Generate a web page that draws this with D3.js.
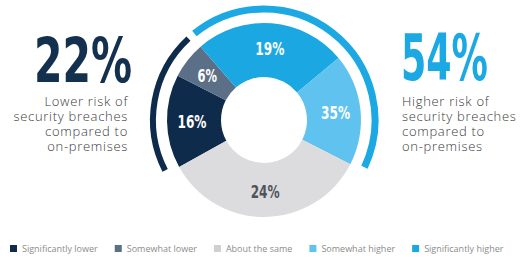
<!DOCTYPE html>
<html>
<head>
<meta charset="utf-8">
<script src="https://cdn.jsdelivr.net/npm/d3@7"></script>
<style>
  html, body { margin: 0; padding: 0; background: #fff; }
  svg { display: block; }
  .num { font-family: "Liberation Sans Narrow", "DejaVu Sans Condensed", "DejaVu Sans", sans-serif; font-stretch: condensed; font-weight: bold; }
  .sub { font-family: "Open Sans", sans-serif; font-weight: 300; font-size: 13px; letter-spacing: 0.7px; fill: #3a3a3a; }
  .legend text { font-family: "Open Sans", sans-serif; font-size: 9px; fill: #8c8c8c; }
</style>
</head>
<body>
<svg></svg>
<script>
// categories in drawing order (clockwise from lower left)
const categories = ["Significantly lower", "Somewhat lower", "Significantly higher", "Somewhat higher", "About the same"];
const labels = ["16%", "6%", "19%", "35%", "24%"];
// arc share as drawn in the picture (the artwork is not to scale)
const shares = [15.6, 6.1, 25.3, 18.6, 34.4];
const colors = ["#0f2b4c", "#5b6f86", "#1ba8e2", "#60c3ef", "#dcdcdf"];
const labelColors = ["#fff", "#fff", "#fff", "#fff", "#505459"];

const legendOrder = ["Significantly lower", "Somewhat lower", "About the same", "Somewhat higher", "Significantly higher"];

const lowerTotal = "22%";
const higherTotal = "54%";
const subLines = ["Lower risk of", "security breaches", "compared to", "on-premises"];
const subLinesRight = ["Higher risk of", "security breaches", "compared to", "on-premises"];

const width = 521, height = 258;
const svg = d3.select("svg").attr("width", width).attr("height", height);

const cx = 264, cy = 120;
const outerR = 97, innerR = 43;
const ringR = 111;
const deg = Math.PI / 180;

const color = d3.scaleOrdinal().domain(categories).range(colors);

const pie = d3.pie()
    .sort(null)
    .value(d => d.share)
    .startAngle(241 * deg)
    .endAngle(241 * deg + 2 * Math.PI);

const data = categories.map((c, i) => ({cat: c, share: shares[i], label: labels[i], lc: labelColors[i]}));
const arcs = pie(data);

const arc = d3.arc().innerRadius(innerR).outerRadius(outerR);
const labelArc = d3.arc().innerRadius(72).outerRadius(72);

const g = svg.append("g").attr("transform", "translate(" + cx + "," + cy + ")");

g.selectAll("path.slice")
    .data(arcs)
    .enter().append("path")
    .attr("class", "slice")
    .attr("d", arc)
    .attr("fill", d => color(d.data.cat));

g.selectAll("text.lbl")
    .data(arcs)
    .enter().append("text")
    .attr("class", "num lbl")
    .attr("transform", d => "translate(" + labelArc.centroid(d) + ")")
    .attr("text-anchor", "middle")
    .attr("dy", "0.36em")
    .attr("font-size", 18)
    .attr("textLength", d => 9.5 * (d.data.label.length - 1) + 10)
    .attr("lengthAdjust", "spacingAndGlyphs")
    .attr("fill", d => d.data.lc)
    .text(d => d.data.label);

// outer rings grouping lower / higher
const pad = 2 * deg;
const ringArc = d3.arc().innerRadius(ringR).outerRadius(ringR);
const rings = [
    {start: arcs[0].startAngle + pad, end: arcs[1].endAngle - pad, col: "#0f2b4c", w: 6},
    {start: arcs[2].startAngle + pad, end: arcs[3].endAngle - pad, col: "#1ca9e3", w: 7}
];
g.selectAll("path.ring")
    .data(rings)
    .enter().append("path")
    .attr("class", "ring")
    .attr("d", d => ringArc({startAngle: d.start, endAngle: d.end}))
    .attr("fill", "none")
    .attr("stroke", d => d.col)
    .attr("stroke-width", d => d.w)
    .attr("stroke-linecap", "round");

// big totals
svg.append("text")
    .attr("class", "num")
    .attr("x", 34).attr("y", 82)
    .attr("font-size", 63)
    .attr("textLength", 98)
    .attr("lengthAdjust", "spacingAndGlyphs")
    .attr("fill", "#13304f")
    .text(lowerTotal);

svg.append("text")
    .attr("class", "num")
    .attr("x", 401).attr("y", 80)
    .attr("font-size", 64)
    .attr("textLength", 87)
    .attr("lengthAdjust", "spacingAndGlyphs")
    .attr("fill", "#1ca9e3")
    .text(higherTotal);

svg.selectAll("text.subL")
    .data(subLines)
    .enter().append("text")
    .attr("class", "sub subL")
    .attr("text-anchor", "end")
    .attr("x", 128)
    .attr("y", (d, i) => 106 + i * 15)
    .text(d => d);

svg.selectAll("text.subR")
    .data(subLinesRight)
    .enter().append("text")
    .attr("class", "sub subR")
    .attr("x", 402)
    .attr("y", (d, i) => 106 + i * 15)
    .text(d => d);

// legend
const legend = svg.append("g").attr("class", "legend");
let lx = 10;
legendOrder.forEach(name => {
    const item = legend.append("g").attr("transform", "translate(" + lx + ",245)");
    item.append("rect")
        .attr("width", 7).attr("height", 7)
        .attr("fill", name === "About the same" ? "#cfcfd2" : color(name));
    const t = item.append("text")
        .attr("x", 12).attr("y", 7)
        .text(name);
    lx += 12 + t.node().getComputedTextLength() + 17;
});
</script>
</body>
</html>
